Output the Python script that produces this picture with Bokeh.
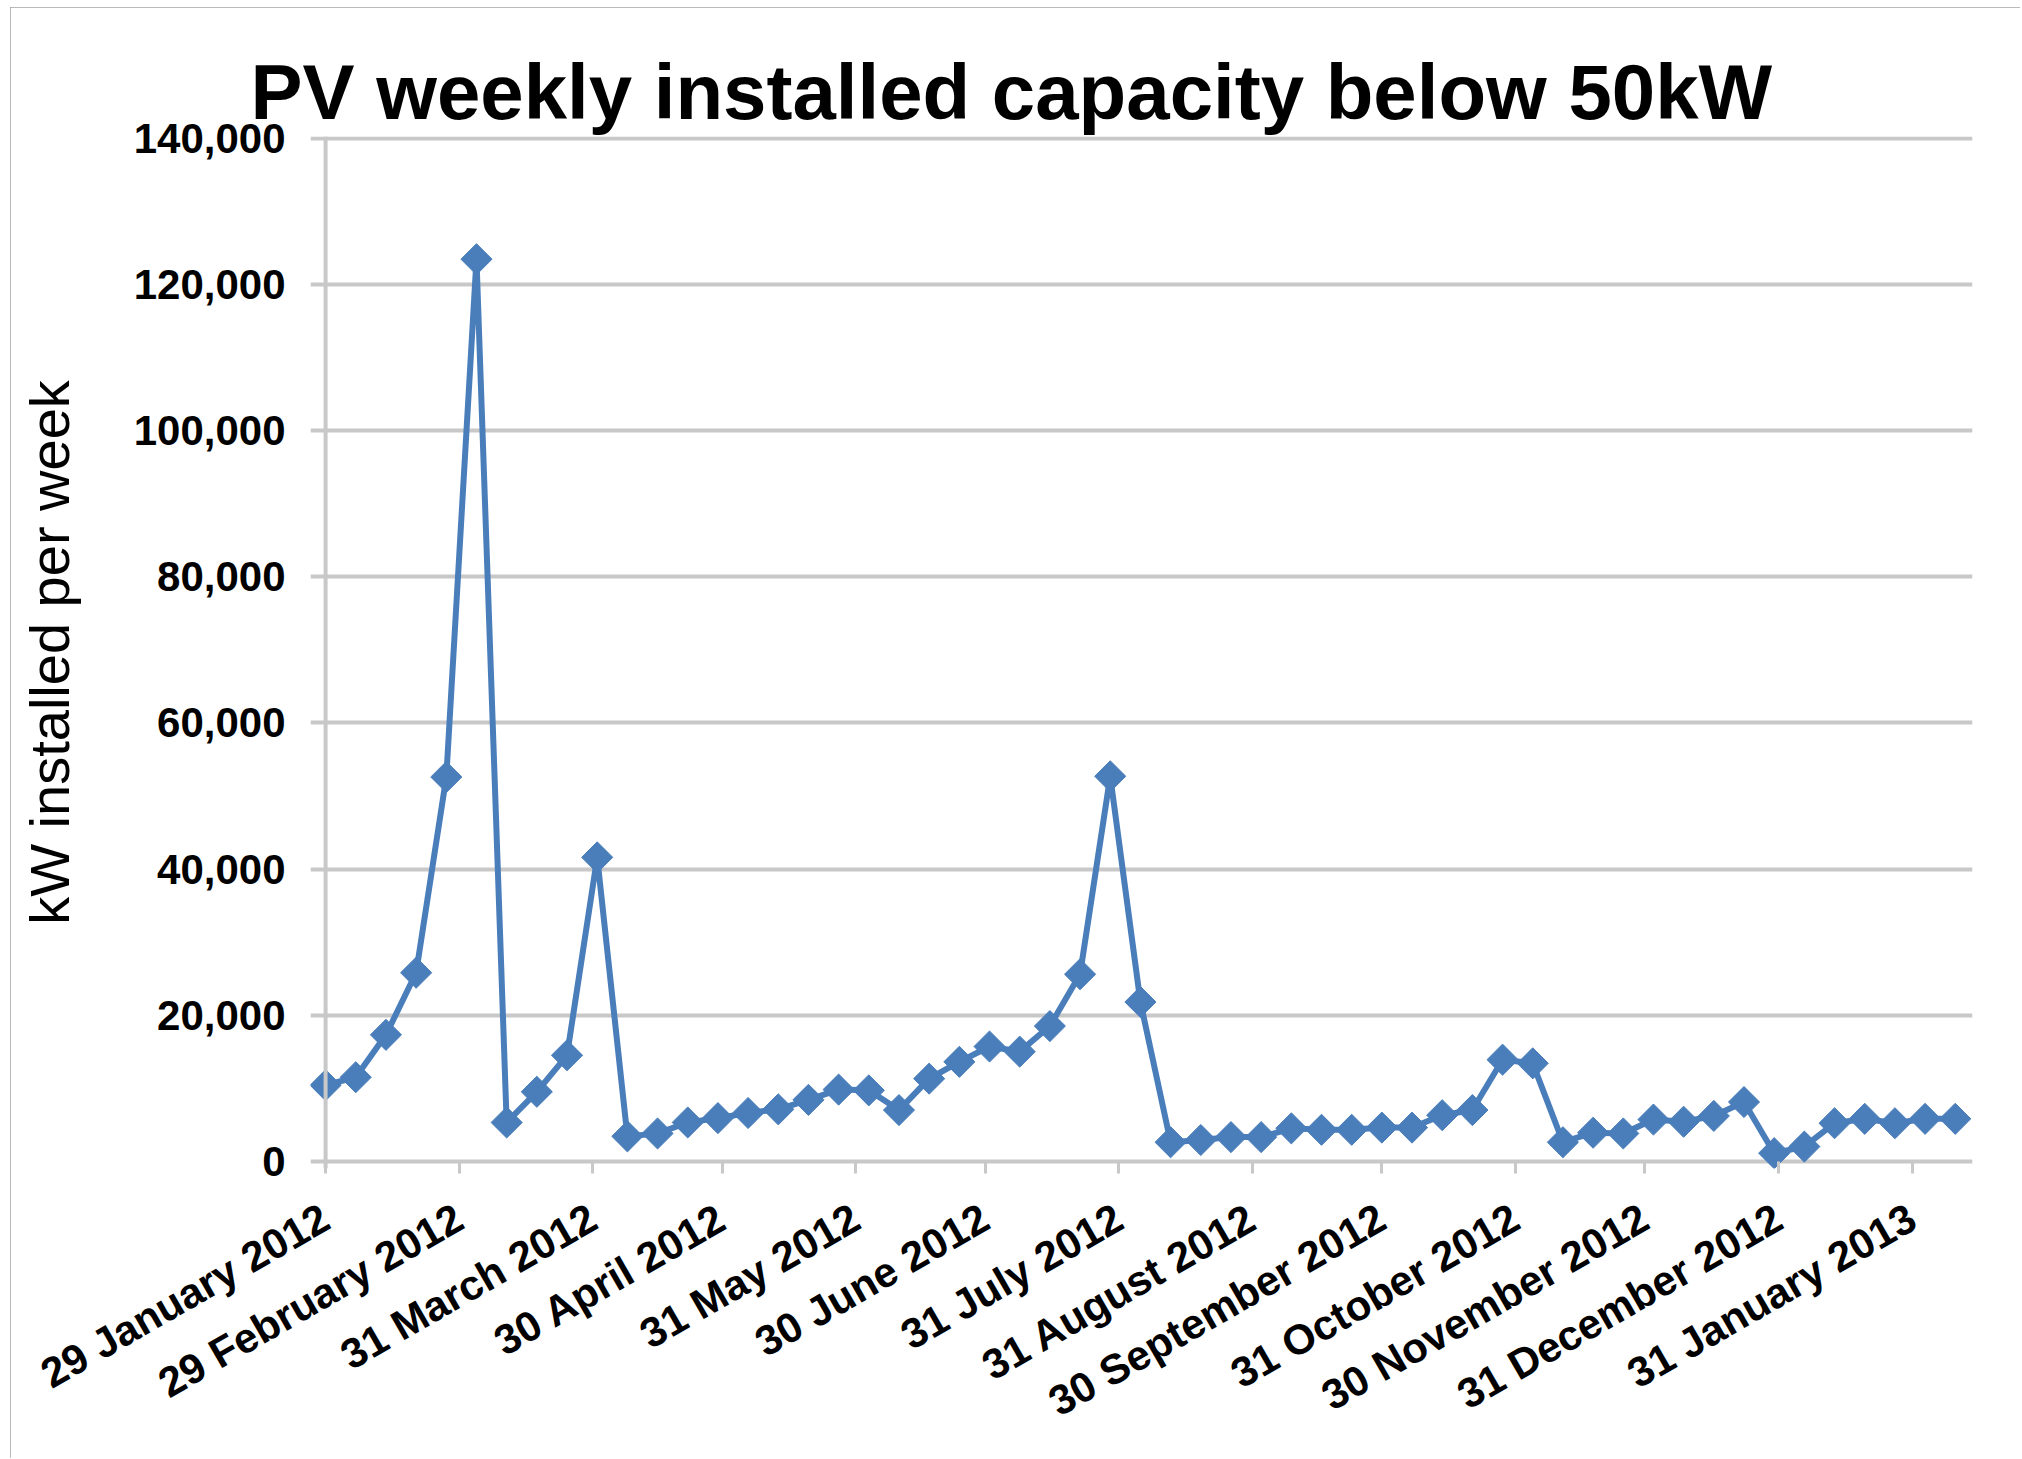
import math
import pandas as pd
from bokeh.plotting import figure
from bokeh.models import Range1d, FixedTicker, NumeralTickFormatter, Span
from bokeh.embed import file_html
from bokeh.resources import INLINE

# ---------------- data ----------------
title_text = "PV weekly installed capacity below 50kW"
y_label = "kW installed per week"
first_week = "2012-01-29"
kw_per_week = [
    10400, 11500, 17300, 25800, 52600, 123500, 5300, 9500, 14500, 41600,
    3400, 3800, 5300, 5900, 6600, 7100, 8400, 9800, 9700, 7000,
    11300, 13600, 15700, 15000, 18500, 25600, 52700, 21800, 2600, 2900,
    3300, 3300, 4500, 4300, 4300, 4600, 4600, 6300, 7000, 13900,
    13400, 2600, 3900, 3800, 5700, 5400, 6200, 8100, 1100, 2000,
    5200, 5800, 5200, 5800, 5800,
]
tick_dates = ["2012-01-29", "2012-02-29", "2012-03-31", "2012-04-30", "2012-05-31",
              "2012-06-30", "2012-07-31", "2012-08-31", "2012-09-30", "2012-10-31",
              "2012-11-30", "2012-12-31", "2013-01-31"]
tick_labels = ["29 January 2012", "29 February 2012", "31 March 2012", "30 April 2012",
               "31 May 2012", "30 June 2012", "31 July 2012", "31 August 2012",
               "30 September 2012", "31 October 2012", "30 November 2012",
               "31 December 2012", "31 January 2013"]
y_ticks = [0, 20000, 40000, 60000, 80000, 100000, 120000, 140000]

weeks = pd.date_range(first_week, periods=len(kw_per_week), freq="7D")


def ms(d):
    return float(pd.Timestamp(d).value // 10**6)


FONT = "Liberation Sans"
BLUE = "#4a7ebb"
GRID = "#c8c8c8"

p = figure(
    width=2010, height=1451,
    x_axis_type="datetime",
    output_backend="svg", toolbar_location=None,
    x_range=Range1d(ms("2012-01-25 12:00"), ms("2013-02-14")),
    y_range=Range1d(-1000, 140300),
    min_border_left=300, min_border_right=48, min_border_top=129, min_border_bottom=290,
    title=title_text,
    styles={"outline": "4px solid #a3a3a3", "outline-offset": "-4px",
            "margin-left": "10px", "margin-top": "7px"},
)
p.background_fill_color = "white"
p.border_fill_color = "white"
p.outline_line_color = None

# title
p.title.text_font = FONT
p.title.text_font_size = "78px"
p.title.text_font_style = "bold"
p.title.text_color = "black"
p.title.align = "left"
p.title.offset = -60
p.title.standoff = 2

# grid
p.xgrid.grid_line_color = None
p.ygrid.grid_line_color = GRID
p.ygrid.grid_line_width = 4

# y axis (its line is drawn as a span at the first week)
ya = p.yaxis[0]
ya.ticker = FixedTicker(ticks=y_ticks)
ya.formatter = NumeralTickFormatter(format="0,0")
ya.axis_line_color = None
ya.major_tick_out = 0
ya.major_tick_in = 0
ya.minor_tick_out = 0
ya.minor_tick_in = 0
ya.major_label_standoff = 25
ya.major_label_text_font = FONT
ya.major_label_text_font_size = "42px"
ya.major_label_text_font_style = "bold"
ya.major_label_text_color = "black"
ya.axis_label = y_label
ya.axis_label_text_font = FONT
ya.axis_label_text_font_size = "56px"
ya.axis_label_text_font_style = "normal"
ya.axis_label_text_color = "black"
ya.axis_label_standoff = 50

p.add_layout(Span(location=ms(first_week), dimension="height",
                  line_color=GRID, line_width=4))

# x axis
xa = p.xaxis[0]
xa.ticker = FixedTicker(ticks=[ms(d) for d in tick_dates])
xa.major_label_overrides = {ms(d): lab for d, lab in zip(tick_dates, tick_labels)}
xa.axis_line_color = None
xa.major_tick_out = 5
xa.major_tick_in = 7
xa.major_tick_line_color = GRID
xa.major_tick_line_width = 3
xa.minor_tick_out = 0
xa.minor_tick_in = 0
xa.major_label_orientation = math.radians(30)
xa.major_label_standoff = 41
xa.major_label_text_font = FONT
xa.major_label_text_font_size = "42px"
xa.major_label_text_font_style = "bold"
xa.major_label_text_color = "black"

# series
p.line(weeks, kw_per_week, line_width=6, color=BLUE)
p.scatter(weeks, kw_per_week, marker="square", angle=math.pi / 4, size=22,
          color=BLUE, line_color=BLUE)

open("out.html", "w").write(file_html(p, INLINE, title=title_text))
